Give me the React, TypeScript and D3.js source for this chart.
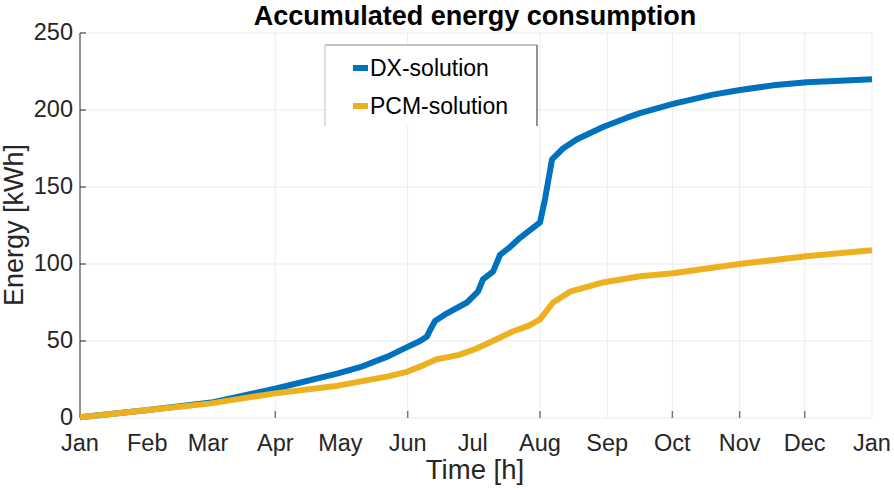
import React from 'react';
import * as d3 from 'd3';

const monthLabels = ['Jan', 'Feb', 'Mar', 'Apr', 'May', 'Jun', 'Jul', 'Aug', 'Sep', 'Oct', 'Nov', 'Dec', 'Jan'];
const monthStartHours = [0, 744, 1416, 2160, 2880, 3624, 4344, 5088, 5832, 6552, 7296, 8016, 8760];
const gridMonthHours = [2160, 3624, 5088, 5832, 6552, 7296, 8016];
const tickMonthHours = [2160, 3624, 5088, 6552, 7296, 8016];
const yTicks = [0, 50, 100, 150, 200, 250];

const dxHours = [0, 730, 1449, 2157, 2854, 3097, 3407, 3617, 3761, 3838, 3871, 3927, 4059, 4280, 4402, 4457, 4568, 4646, 4756, 4867, 4977, 5088, 5143, 5221, 5342, 5497, 5785, 6050, 6194, 6559, 7001, 7300, 7665, 8041, 8406, 8760];
const dxEnergy = [0.5, 5, 10, 19, 29, 33, 40, 46, 50, 53, 57, 63, 68, 75, 82, 90, 95, 106, 111, 117, 122, 127, 142, 168, 175, 181, 189, 195, 198, 204, 210, 213, 216, 218, 219, 220];

const pcmHours = [0, 730, 1449, 2157, 2854, 3407, 3617, 3789, 3938, 4192, 4380, 4601, 4778, 4966, 5088, 5232, 5420, 5785, 6194, 6559, 7290, 8031, 8760];
const pcmEnergy = [0.5, 5, 9.5, 16, 21, 27, 30, 34, 38, 41, 45, 51, 56, 60, 64, 75, 82, 88, 92, 94, 100, 105, 109];

const seriesNames = ['DX-solution', 'PCM-solution'];
const seriesColors = ['#0072BD', '#EDB120'];

const W = 894;
const H = 492;
const M = { left: 80, right: 22, top: 33, bottom: 74 };
const FONT = '"Liberation Sans", Arial, Helvetica, sans-serif';

export default function App() {
  const x = d3.scaleLinear().domain([0, 8760]).range([M.left, W - M.right]);
  const y = d3.scaleLinear().domain([0, 250]).range([H - M.bottom, M.top]);
  const line = d3
    .line<[number, number]>()
    .x((d) => x(d[0]))
    .y((d) => y(d[1]));
  const dxData: [number, number][] = dxHours.map((h, i) => [h, dxEnergy[i]]);
  const pcmData: [number, number][] = pcmHours.map((h, i) => [h, pcmEnergy[i]]);
  const x0 = x(0);
  const x1 = x(8760);
  const yb = y(0);
  const yt = y(250);
  const axisColor = '#262626';
  const gridColor = '#ebebeb';

  const legX = 325;
  const legY = 45;
  const legW = 212;
  const legBottom = 126;
  const legRows = [68, 106];

  return (
    <svg
      width={W}
      height={H}
      style={{ position: 'absolute', left: 0, top: 0, background: '#fff' }}
      fontFamily={FONT}
    >
      <rect x={0} y={0} width={W} height={H} fill="#fff" />
      {/* grid */}
      {yTicks.map((t) => (
        <line key={'gy' + t} x1={x0} x2={x1} y1={y(t)} y2={y(t)} stroke={gridColor} strokeWidth={1} />
      ))}
      {gridMonthHours.map((h) => (
        <line key={'gx' + h} x1={x(h)} x2={x(h)} y1={yt} y2={yb} stroke={gridColor} strokeWidth={1} />
      ))}
      <line x1={x1} x2={x1} y1={yt} y2={yb} stroke={gridColor} strokeWidth={1} />

      {/* axes */}
      <line x1={x0} x2={x0} y1={yt} y2={yb} stroke={axisColor} strokeWidth={1} />
      {yTicks.map((t) => (
        <g key={'ty' + t}>
          <line x1={x0} x2={x0 + 6} y1={y(t)} y2={y(t)} stroke={axisColor} strokeWidth={1} />
          <text x={x0 - 7} y={y(t) + 7} textAnchor="end" fontSize={23.5} fill={axisColor}>
            {t}
          </text>
        </g>
      ))}
      {tickMonthHours.map((h) => (
        <line key={'tx' + h} x1={x(h)} x2={x(h)} y1={yb} y2={yb - 7} stroke="#777" strokeWidth={1.5} />
      ))}
      {monthStartHours.map((h, i) => (
        <text key={'lx' + i} x={x(h)} y={yb + 33} textAnchor="middle" fontSize={23.5} fill={axisColor}>
          {monthLabels[i]}
        </text>
      ))}

      {/* lines */}
      <path d={line(dxData) || ''} fill="none" stroke={seriesColors[0]} strokeWidth={6} strokeLinejoin="round" />
      <path d={line(pcmData) || ''} fill="none" stroke={seriesColors[1]} strokeWidth={6} strokeLinejoin="round" />

      {/* legend */}
      <rect x={legX} y={legY} width={legW} height={legBottom - legY} fill="#fff" />
      <line x1={legX} x2={legX + legW} y1={legY} y2={legY} stroke="#8a8a8a" strokeWidth={1} />
      <line x1={legX} x2={legX} y1={legY} y2={legBottom} stroke="#bdbdbd" strokeWidth={1} />
      <line x1={legX + legW} x2={legX + legW} y1={legY} y2={legBottom} stroke="#6e6e6e" strokeWidth={1.5} />
      {seriesNames.map((name, i) => (
        <g key={name}>
          <line x1={353} x2={368} y1={legRows[i]} y2={legRows[i]} stroke={seriesColors[i]} strokeWidth={6} />
          <text x={370} y={legRows[i] + 8} fontSize={23} fill="#000">
            {name}
          </text>
        </g>
      ))}

      {/* titles */}
      <text x={475} y={25} textAnchor="middle" fontSize={27} fontWeight="bold" fill="#000">
        Accumulated energy consumption
      </text>
      <text x={475} y={479} textAnchor="middle" fontSize={27.5} fill={axisColor}>
        Time [h]
      </text>
      <text
        transform={`translate(${23},${225}) rotate(-90)`}
        textAnchor="middle"
        fontSize={27}
        fill={axisColor}
      >
        Energy [kWh]
      </text>
    </svg>
  );
}
